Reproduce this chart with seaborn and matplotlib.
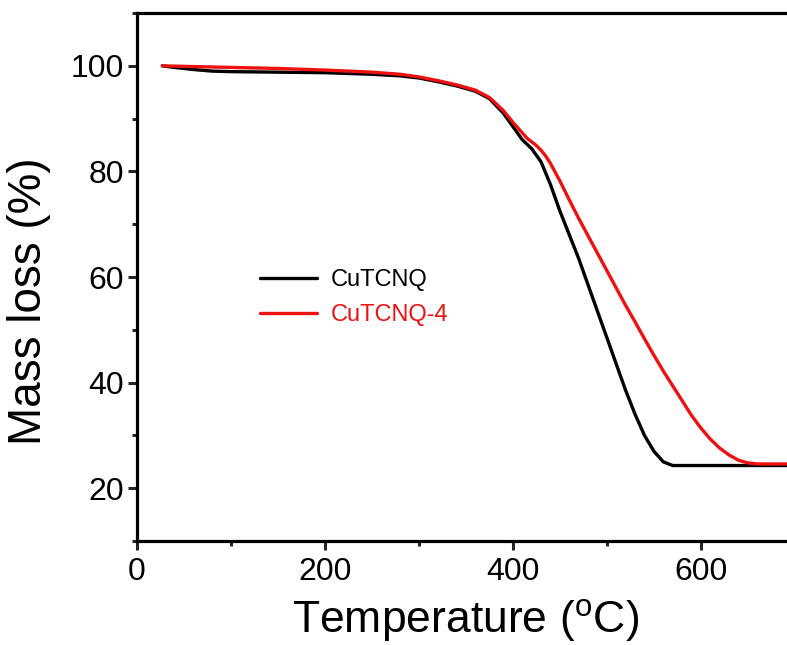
import numpy as np
import pandas as pd
import matplotlib
matplotlib.use('Agg')
import matplotlib.pyplot as plt
import seaborn as sns
from matplotlib.ticker import MultipleLocator

# TGA curves
temp_cutcnq = [27, 40, 60, 80, 100, 150, 200, 250, 280, 300, 320, 340, 360, 375,
               390, 400, 410, 420, 430, 440, 450, 460, 470, 480, 490, 500, 510,
               520, 530, 540, 550, 560, 570, 600, 650, 700]
mass_cutcnq = [100.0, 99.7, 99.3, 99.0, 98.9, 98.8, 98.7, 98.4, 98.1, 97.7, 97.0,
               96.2, 95.2, 93.8, 91.0, 88.5, 86.0, 84.3, 81.8, 77.5, 72.5, 68.0,
               63.5, 58.5, 53.5, 48.5, 43.5, 38.5, 34.0, 30.0, 27.0, 25.0, 24.3,
               24.3, 24.3, 24.3]

temp_cutcnq4 = [27, 50, 100, 150, 200, 250, 280, 300, 320, 340, 360, 375, 390,
                400, 410, 415, 420, 425, 430, 435, 440, 450, 460, 470, 480, 490,
                500, 510, 520, 530, 540, 550, 560, 570, 580, 590, 600, 610, 620,
                630, 640, 650, 660, 700]
mass_cutcnq4 = [100.0, 99.9, 99.7, 99.5, 99.2, 98.8, 98.4, 97.9, 97.2, 96.4, 95.4,
                94.0, 91.5, 89.3, 87.3, 86.3, 85.6, 84.9, 84.0, 82.9, 81.5, 78.2,
                74.6, 71.1, 67.8, 64.5, 61.2, 57.9, 54.6, 51.5, 48.3, 45.2, 42.2,
                39.4, 36.6, 33.8, 31.4, 29.3, 27.6, 26.3, 25.3, 24.8, 24.6, 24.6]

labels = ['CuTCNQ', 'CuTCNQ-4']
colors = ['#000000', '#ee1111']

df = pd.concat([
    pd.DataFrame({'T': temp_cutcnq, 'mass': mass_cutcnq, 'sample': labels[0]}),
    pd.DataFrame({'T': temp_cutcnq4, 'mass': mass_cutcnq4, 'sample': labels[1]}),
])

sns.set_style('white')
plt.rcParams['font.family'] = ['Liberation Sans', 'DejaVu Sans']

fig = plt.figure(figsize=(7.87, 6.45), dpi=100)
# right spine sits just past the canvas edge, as in the reference
ax = fig.add_axes([0.174, 0.1612, 0.836, 0.8186])

sns.lineplot(data=df, x='T', y='mass', hue='sample', palette=colors,
             linewidth=2.4, sort=False, ax=ax)

ax.set_xlim(0, 700)
ax.set_ylim(10, 110)
ax.xaxis.set_major_locator(MultipleLocator(200))
ax.xaxis.set_minor_locator(MultipleLocator(100))
ax.yaxis.set_minor_locator(MultipleLocator(10))
ax.set_yticks([20, 40, 60, 80, 100])

for s in ax.spines.values():
    s.set_linewidth(2.3)
    s.set_color('black')
ax.tick_params(which='major', direction='out', length=6.5, width=2.2,
               labelsize=23, labelcolor='black', bottom=True, left=True)
ax.tick_params(axis='x', which='major', pad=5)
ax.tick_params(axis='y', which='major', pad=3)
ax.tick_params(which='minor', direction='out', length=3.5, width=2.2,
               bottom=True, left=True)

ax.set_xlabel('Temperature ($^\\mathregular{o}$C)', fontsize=32, labelpad=7,
              color='black')
ax.set_ylabel('Mass loss (%)', fontsize=33, color='black')
ax.yaxis.set_label_coords(-0.13, 0.455)

leg = ax.legend(loc='upper left', bbox_to_anchor=(0.155, 0.555), frameon=False,
                fontsize=17, handlelength=2.4, handletextpad=0.6,
                labelspacing=0.55, labelcolor='linecolor')
for line in leg.get_lines():
    line.set_linewidth(2.4)

fig.savefig('out.png', dpi=100)
